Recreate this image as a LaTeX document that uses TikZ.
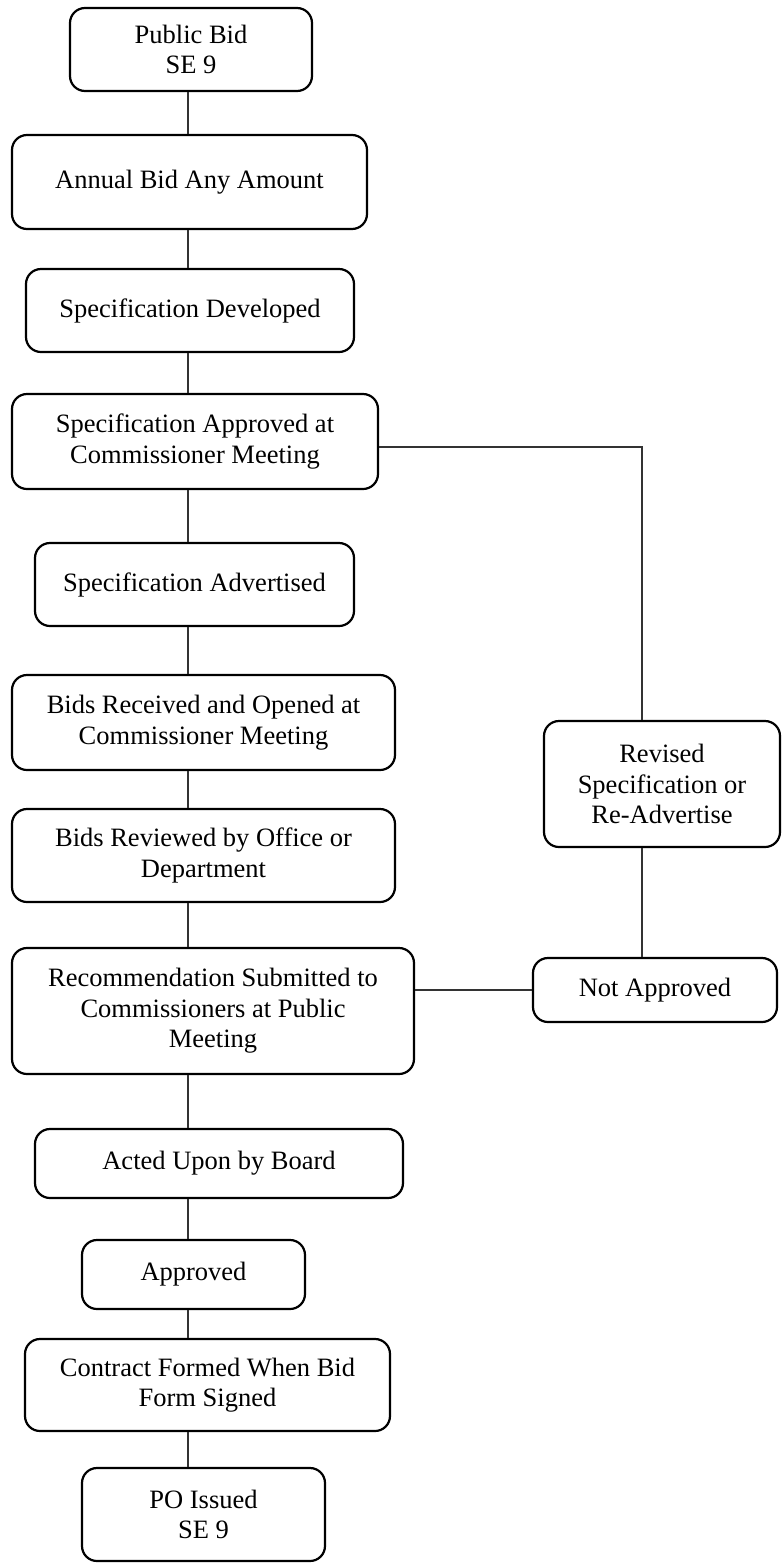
\documentclass[tikz,border=0pt]{standalone}
\usepackage{fontspec}
\setmainfont{Liberation Serif}
\begin{document}
\begin{tikzpicture}[x=1pt,y=-1pt,
  stepbox/.style={draw=black, line width=2.2pt, rounded corners=15pt, align=center,
    inner sep=0pt, font=\fontsize{26.5}{30.5}\selectfont},
  link/.style={draw=black!80, line width=1.2pt}]
\useasboundingbox (0,0) rectangle (783,1564);

% main column
\node[stepbox, minimum width=242pt, minimum height=83pt] (pb)  at (191,49.5)   {Public Bid\\SE 9};
\node[stepbox, minimum width=355pt, minimum height=94pt] (ab)  at (189.5,182)  {Annual Bid Any Amount};
\node[stepbox, minimum width=328pt, minimum height=83pt] (sd)  at (190,310.5)  {Specification Developed};
\node[stepbox, minimum width=366pt, minimum height=95pt] (sa)  at (195,441.5)  {Specification Approved at\\Commissioner Meeting};
\node[stepbox, minimum width=319pt, minimum height=83pt] (adv) at (194.5,584.5) {Specification Advertised};
\node[stepbox, minimum width=383pt, minimum height=95pt] (bro) at (203.5,722.5) {Bids Received and Opened at\\Commissioner Meeting};
\node[stepbox, minimum width=383pt, minimum height=93pt] (brv) at (203.5,855.5) {Bids Reviewed by Office or\\Department};
\node[stepbox, minimum width=402pt, minimum height=126pt] (rec) at (213,1011)  {Recommendation Submitted to\\Commissioners at Public\\Meeting};
\node[stepbox, minimum width=368pt, minimum height=69pt] (act) at (219,1163.5) {Acted Upon by Board};
\node[stepbox, minimum width=223pt, minimum height=69pt] (app) at (193.5,1274.5) {Approved};
\node[stepbox, minimum width=365pt, minimum height=92pt] (cf)  at (207.5,1385) {Contract Formed When Bid\\Form Signed};
\node[stepbox, minimum width=243pt, minimum height=93pt] (po)  at (203.5,1514.5) {PO Issued\\SE 9};

% side branch
\node[stepbox, minimum width=236pt, minimum height=126pt] (rev) at (662,784) {Revised\\Specification or\\Re-Advertise};
\node[stepbox, minimum width=244pt, minimum height=64pt]  (na)  at (655,990)   {Not Approved};

% spine of the main column
\coordinate (sp) at (188,0);
\foreach \a/\b in {pb/ab, ab/sd, sd/sa, sa/adv, adv/bro, bro/brv, brv/rec, rec/act, act/app, app/cf, cf/po}
  \draw[link] (\a.south -| sp) -- (\b.north -| sp);

% branch connectors
\coordinate (bx) at (642,447);
\draw[link] (sa.east |- bx) -- (bx) -- (rev.north -| bx);
\draw[link] (rev.south -| bx) -- (na.north -| bx);
\draw[link] (rec.east |- na.west) -- (na.west);
\end{tikzpicture}
\end{document}
